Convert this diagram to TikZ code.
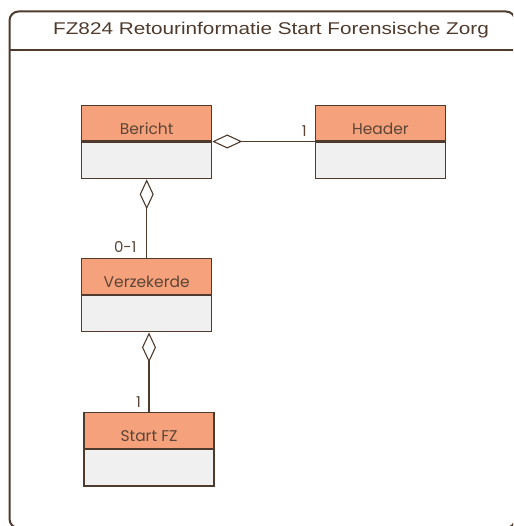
\documentclass[tikz,border=0pt]{standalone}
\usepackage{fontspec}
\setmainfont{Liberation Sans}
\newfontfamily\boxfont{Poppins}
\usetikzlibrary{arrows.meta,positioning}
\definecolor{framecol}{HTML}{4F3B2D}
\definecolor{hdrfill}{HTML}{F5A17B}
\definecolor{bodyfill}{HTML}{F0F0F0}
\definecolor{txtcol}{HTML}{5C4536}
\tikzset{
  hdr/.style={draw=framecol, line width=1.1pt, fill=hdrfill, minimum width=130pt, minimum height=35.3pt,
    inner sep=0pt, text=txtcol, font=\boxfont\fontsize{15.5pt}{17pt}\selectfont, text depth=0pt, text height=22pt},
  body/.style={draw=framecol, line width=1.1pt, fill=bodyfill, minimum width=130pt, minimum height=36.7pt, inner sep=0pt},
  conn/.style={draw=framecol, line width=1.1pt},
  agg/.style={conn, {Diamond[open, length=30pt, width=14pt]}-},
  mult/.style={text=txtcol, font=\boxfont\fontsize{15pt}{17pt}\selectfont, inner sep=0pt, anchor=base east}
}
\begin{document}
\begin{tikzpicture}[x=1pt,y=-1pt]
\useasboundingbox (0,0) rectangle (513,526);
\begin{scope}
\clip (0,0) rectangle (513,526);
\draw[framecol, line width=2pt, rounded corners=9pt] (9.5,11.5) rectangle (515,528);
\draw[framecol, line width=2pt] (9.5,50) -- (515,50);
\end{scope}
\node[text=framecol, font=\fontsize{17pt}{19pt}\selectfont, anchor=base, inner sep=0pt] (title) at (271,34.3) {\scalebox{1.22}[1]{FZ824 Retourinformatie Start Forensische Zorg}};
% classes
\node[hdr] (bericht) at (146.7,123.3) {Bericht};
\node[body, below=0pt of bericht] (bericht-b) {};
\node[hdr] (header) at (380.4,123.3) {Header};
\node[body, below=0pt of header] (header-b) {};
\node[hdr] (verz) at (146.7,276.4) {Verzekerde};
\node[body, below=0pt of verz] (verz-b) {};
\node[hdr] (start) at (149,430.5) {Start FZ};
\node[body, below=0pt of start] (start-b) {};
% connectors
\draw[agg] (bericht.south east) -- (header.south west);
\draw[agg] (bericht-b.south) -- (verz.north);
\draw[agg] (start.north |- verz-b.south) -- (start.north);
% multiplicities
\node[mult] (m1) at ([xshift=-8pt,yshift=5.3pt]header.south west) {1};
\node[mult] (m2) at ([xshift=-10pt,yshift=5.4pt]verz.north) {0-1};
\node[mult] (m3) at ([xshift=-8pt,yshift=5pt]start.north) {1};
\end{tikzpicture}
\end{document}
